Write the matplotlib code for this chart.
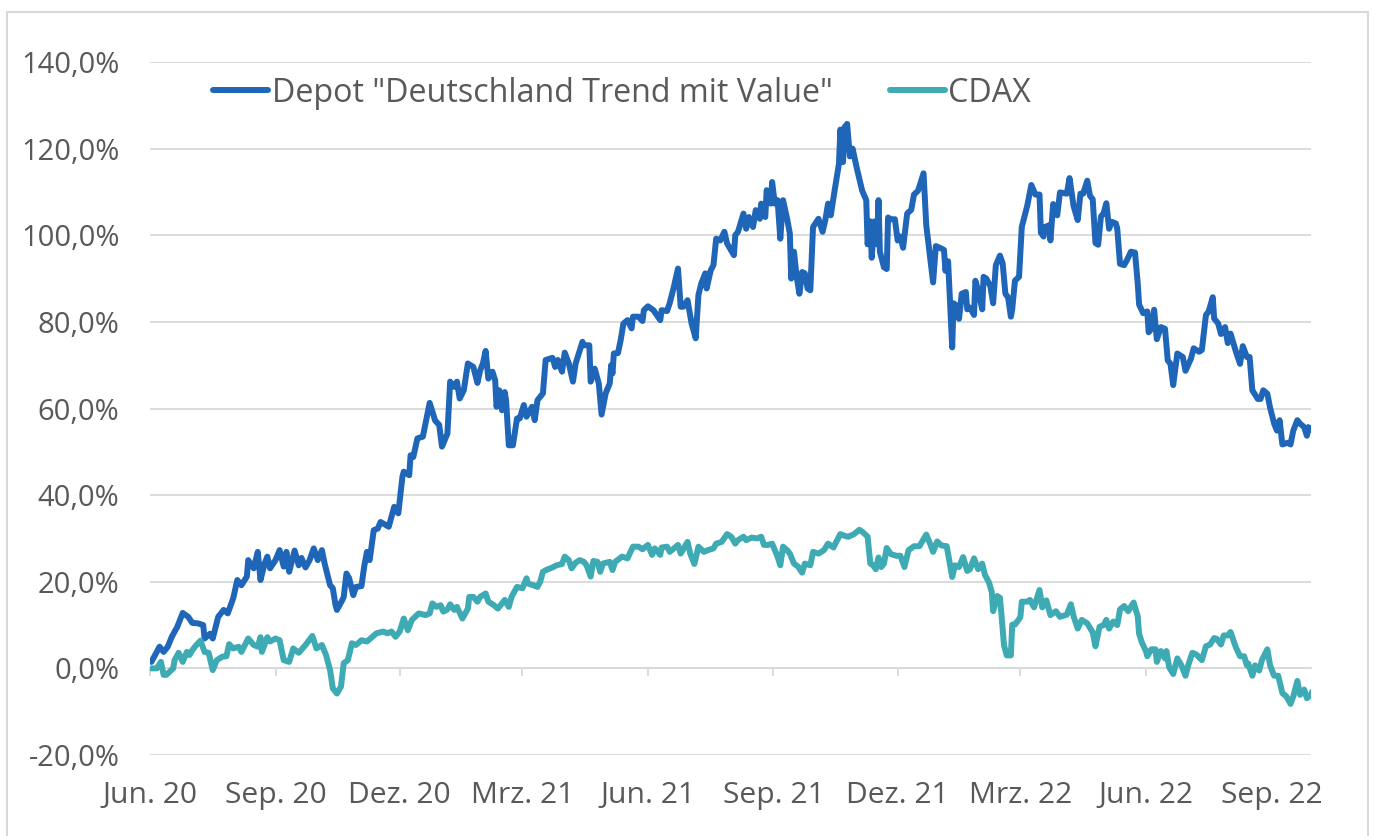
import matplotlib
matplotlib.use("Agg")
import matplotlib.pyplot as plt
from matplotlib.patches import Rectangle
from matplotlib.ticker import FuncFormatter
import pandas as pd

plt.rcParams['font.family'] = ['Open Sans', 'DejaVu Sans']

start_date = "2020-06-01"

# days since start_date / performance in %
depot_days = [1, 7, 10, 13, 16, 20, 24, 28, 31, 35, 39, 40, 44, 46, 50, 54, 57, 61, 64, 67,
              71, 72, 76, 79, 81, 84, 86, 88, 92, 95, 98, 100, 102, 106, 109, 111, 114, 117, 120, 123,
              126, 128, 132, 134, 136, 137, 141, 142, 144, 146, 149, 151, 155, 157, 159, 161, 164, 167, 169, 175,
              177, 179, 182, 185, 186, 190, 191, 193, 196, 200, 205, 209, 212, 214, 218, 220, 223, 225, 227, 230,
              233, 237, 240, 242, 244, 246, 248, 251, 253, 254, 256, 258, 260, 261, 263, 266, 269, 271, 274, 276,
              280, 282, 284, 288, 290, 295, 297, 299, 302, 304, 307, 310, 312, 317, 318, 322, 323, 326, 329, 331,
              334, 337, 338, 339, 340, 343, 345, 347, 350, 353, 354, 358, 361, 362, 365, 369, 374, 375, 379, 381,
              384, 387, 389, 391, 394, 397, 400, 402, 404, 407, 408, 411, 413, 415, 418, 421, 423, 426, 428, 429,
              431, 435, 437, 439, 442, 444, 447, 448, 451, 452, 455, 456, 458, 460, 462, 464, 467, 469, 470, 472,
              474, 476, 478, 480, 482, 484, 486, 490, 493, 495, 497, 499, 502, 505, 506, 508, 509, 511, 513, 515,
              518, 522, 525, 526, 528, 529, 531, 533, 534, 535, 538, 540, 541, 543, 546, 548, 550, 552, 555, 558,
              560, 563, 567, 569, 574, 576, 579, 582, 583, 585, 588, 589, 591, 593, 595, 598, 599, 601, 604, 605,
              607, 610, 611, 613, 616, 618, 620, 623, 625, 627, 629, 631, 632, 634, 637, 639, 643, 646, 649, 652,
              653, 655, 656, 659, 660, 662, 665, 667, 672, 674, 677, 680, 682, 684, 687, 689, 691, 693, 695, 697,
              699, 701, 703, 705, 708, 709, 711, 714, 716, 719, 722, 724, 725, 728, 731, 732, 734, 736, 738, 741,
              744, 746, 748, 750, 753, 757, 759, 763, 765, 769, 771, 774, 776, 779, 780, 783, 785, 788, 790, 792,
              796, 799, 801, 804, 806, 808, 812, 814, 816, 819, 821, 824, 826, 828, 830, 834, 836, 838, 841, 843,
              846, 848, 849, 852]
depot_values = [1.5, 5.0, 3.8, 5.0, 7.3, 9.6, 12.8, 11.9, 10.5, 10.4, 10.0, 6.9, 8.0, 6.9, 11.9, 13.5, 12.7, 16.2, 20.4, 19.2,
                21.2, 25.0, 23.1, 26.9, 20.4, 24.2, 25.8, 23.1, 25.0, 27.3, 23.5, 26.9, 22.3, 27.2, 23.8, 25.5, 23.3, 25.0, 27.7, 25.0,
                27.3, 24.2, 19.2, 18.5, 14.6, 13.5, 15.8, 16.5, 21.9, 20.8, 16.9, 18.8, 19.0, 23.5, 26.9, 25.0, 31.9, 32.3, 33.8, 32.7,
                35.0, 37.3, 35.8, 44.2, 45.4, 44.6, 49.2, 48.8, 53.1, 53.5, 61.3, 57.2, 56.2, 51.2, 54.2, 66.2, 65.0, 66.2, 62.3, 64.2,
                70.4, 69.6, 65.9, 68.8, 70.4, 73.3, 66.9, 68.5, 66.5, 60.4, 64.2, 59.6, 63.8, 61.9, 51.5, 51.5, 57.7, 57.7, 60.8, 58.1,
                60.4, 57.3, 61.9, 63.5, 71.2, 71.7, 69.6, 71.2, 68.5, 72.9, 70.4, 66.2, 70.4, 75.4, 74.6, 74.6, 66.2, 69.2, 65.7, 58.6,
                63.5, 65.8, 70.0, 68.1, 72.7, 72.8, 75.8, 79.6, 80.4, 78.5, 81.2, 81.2, 80.2, 82.7, 83.6, 82.7, 80.4, 82.7, 82.5, 84.4,
                88.1, 92.3, 83.5, 83.5, 85.0, 79.6, 76.2, 86.2, 88.8, 91.2, 87.7, 91.9, 93.1, 99.2, 98.8, 100.8, 98.1, 96.5, 95.4, 100.0,
                100.8, 105.0, 101.5, 104.2, 101.9, 105.8, 103.8, 107.3, 104.2, 110.4, 107.3, 112.3, 107.3, 108.1, 99.2, 108.1, 103.8, 100.4, 90.0, 96.2,
                90.4, 86.5, 91.5, 91.2, 87.7, 87.3, 101.9, 103.8, 100.8, 103.5, 107.3, 104.6, 110.7, 116.5, 124.4, 116.9, 124.9, 125.7, 118.2, 120.0,
                115.6, 110.3, 108.1, 97.9, 103.2, 94.8, 103.2, 97.9, 108.1, 96.2, 92.6, 92.2, 104.1, 103.7, 103.7, 98.8, 99.7, 97.1, 105.0, 105.9,
                109.4, 110.3, 114.3, 102.3, 89.1, 97.5, 97.1, 96.6, 91.8, 94.0, 74.1, 84.3, 83.8, 80.7, 86.5, 86.9, 82.9, 83.3, 81.6, 89.5,
                87.3, 82.9, 90.4, 90.0, 88.2, 84.3, 93.1, 95.3, 93.5, 86.5, 85.6, 81.2, 82.9, 89.5, 90.4, 101.9, 106.8, 111.6, 109.4, 109.4,
                100.6, 99.7, 101.9, 102.3, 98.8, 107.2, 104.6, 109.9, 109.6, 113.2, 106.7, 103.5, 109.6, 109.6, 112.6, 109.1, 108.3, 98.2, 97.8, 104.3,
                105.1, 107.4, 101.5, 103.1, 102.7, 101.5, 93.4, 93.1, 94.2, 96.2, 96.0, 88.9, 84.0, 82.0, 82.4, 77.6, 78.4, 82.8, 76.0, 78.8,
                78.4, 71.1, 70.3, 65.4, 72.7, 71.9, 68.7, 71.5, 73.9, 73.1, 73.5, 81.6, 82.4, 85.7, 80.8, 79.6, 77.2, 78.8, 75.1, 77.3,
                73.1, 70.3, 74.4, 71.9, 71.9, 64.2, 62.2, 62.2, 64.2, 63.4, 60.2, 56.5, 54.9, 57.3, 51.7, 52.1, 51.7, 54.9, 57.3, 56.5,
                55.7, 53.7, 55.7, 54.9]

cdax_days = [1, 5, 8, 10, 12, 17, 18, 21, 24, 27, 29, 31, 34, 37, 40, 43, 46, 49, 53, 56,
             58, 61, 65, 67, 72, 76, 79, 81, 82, 86, 88, 92, 95, 98, 102, 105, 109, 114, 119, 122,
             126, 129, 132, 134, 137, 140, 142, 145, 148, 151, 155, 159, 163, 166, 171, 174, 177, 180, 183, 186,
             189, 192, 197, 202, 205, 207, 210, 213, 215, 218, 220, 223, 225, 229, 233, 234, 237, 240, 242, 246,
             248, 252, 255, 258, 260, 263, 265, 269, 273, 276, 277, 281, 284, 286, 288, 291, 295, 298, 302, 304,
             307, 309, 312, 315, 318, 320, 323, 325, 328, 330, 332, 337, 339, 341, 346, 350, 354, 358, 361, 365,
             368, 370, 374, 375, 379, 381, 384, 387, 389, 394, 396, 399, 402, 406, 409, 413, 415, 419, 423, 426,
             429, 431, 435, 437, 441, 445, 448, 450, 453, 456, 458, 460, 462, 464, 467, 469, 472, 475, 478, 480,
             484, 486, 490, 494, 497, 501, 503, 506, 510, 512, 516, 520, 523, 526, 528, 530, 532, 534, 536, 538,
             540, 543, 547, 550, 553, 556, 560, 564, 569, 572, 574, 577, 580, 584, 588, 590, 593, 596, 599, 601,
             604, 607, 610, 612, 615, 617, 618, 621, 623, 624, 626, 628, 631, 632, 634, 637, 638, 639, 643, 645,
             648, 652, 654, 657, 660, 664, 667, 672, 675, 677, 680, 683, 687, 691, 693, 696, 699, 701, 703, 706,
             709, 711, 714, 717, 721, 724, 725, 727, 730, 731, 734, 737, 738, 741, 744, 745, 747, 750, 753, 756,
             759, 761, 764, 767, 771, 774, 777, 780, 782, 785, 787, 790, 792, 796, 799, 802, 804, 805, 808, 810,
             813, 815, 819, 821, 824, 827, 830, 833, 836, 838, 841, 843, 846, 848, 851, 852]
cdax_values = [0.0, 0.0, 1.5, -1.5, -1.5, 0.0, 1.9, 3.6, 1.5, 3.8, 3.1, 4.2, 5.4, 6.4, 3.8, 3.6, -0.4, 1.9, 2.7, 2.8,
               5.6, 4.6, 5.0, 3.8, 6.9, 5.4, 5.0, 7.2, 3.8, 7.2, 6.2, 6.9, 6.5, 1.9, 1.5, 4.6, 3.6, 5.4, 7.5, 4.6,
               5.4, 3.1, -0.4, -4.6, -5.8, -4.2, 1.2, 1.9, 5.8, 5.4, 6.5, 6.2, 7.3, 8.1, 8.5, 8.1, 8.5, 7.3, 8.5, 11.5,
               8.8, 11.2, 12.7, 12.3, 12.7, 15.0, 14.2, 14.6, 13.1, 13.6, 14.8, 13.5, 14.2, 11.5, 13.8, 16.5, 16.5, 15.4, 16.5, 17.3,
               15.4, 14.6, 13.8, 15.0, 15.8, 14.2, 16.5, 18.8, 18.5, 20.8, 19.6, 19.2, 18.8, 20.0, 22.3, 22.8, 23.3, 23.8, 24.1, 25.8,
               25.0, 23.1, 24.4, 25.0, 24.6, 23.8, 21.2, 24.8, 24.6, 22.3, 24.2, 24.6, 22.7, 24.6, 25.8, 25.4, 28.1, 28.1, 27.5, 28.5,
               26.2, 27.7, 26.2, 27.9, 28.1, 26.9, 27.7, 28.5, 26.5, 29.2, 26.5, 24.1, 28.1, 26.9, 27.3, 27.7, 28.8, 29.2, 31.0, 30.4,
               28.8, 29.6, 30.4, 29.6, 30.2, 30.0, 30.4, 28.5, 28.5, 28.8, 27.3, 25.8, 23.8, 28.1, 27.3, 26.5, 24.2, 23.5, 22.1, 24.2,
               23.8, 26.9, 26.5, 27.3, 28.8, 27.9, 29.2, 31.0, 30.5, 30.4, 31.0, 32.0, 31.3, 30.4, 24.2, 23.8, 22.9, 25.6, 23.4, 24.2,
               27.8, 26.4, 26.0, 26.0, 23.4, 27.3, 28.2, 28.2, 30.9, 28.6, 26.9, 29.3, 28.4, 28.2, 21.1, 23.8, 23.4, 25.7, 22.5, 22.9,
               25.4, 22.9, 24.2, 21.6, 19.8, 17.6, 13.2, 16.7, 16.3, 12.8, 5.3, 3.0, 3.0, 10.1, 10.1, 11.4, 11.9, 15.4, 15.4, 15.8,
               14.1, 18.1, 14.1, 15.7, 12.3, 13.2, 11.9, 12.4, 14.8, 12.0, 9.2, 11.2, 10.4, 8.3, 5.1, 9.6, 10.0, 11.2, 9.2, 10.8,
               10.0, 13.6, 14.4, 13.2, 15.2, 12.0, 8.0, 6.0, 4.0, 2.8, 4.4, 4.4, 1.5, 4.0, 2.3, 4.0, 0.3, -1.3, 2.3, 0.7,
               -1.7, 0.7, 3.6, 3.2, 1.9, 5.1, 5.5, 7.0, 6.8, 5.5, 7.6, 7.6, 8.4, 4.8, 2.8, 2.8, 0.7, 1.1, -1.7, 0.7,
               -0.5, 1.9, 4.4, 0.7, -1.7, -1.7, -5.7, -6.5, -8.2, -6.5, -2.9, -6.1, -4.9, -6.9, -6.1, -5.3]

tick_dates = ["2020-06-01", "2020-09-01", "2020-12-01", "2021-03-01", "2021-06-01",
              "2021-09-01", "2021-12-01", "2022-03-01", "2022-06-01", "2022-09-01"]
tick_labels = ["Jun. 20", "Sep. 20", "Dez. 20", "Mrz. 21", "Jun. 21",
               "Sep. 21", "Dez. 21", "Mrz. 22", "Jun. 22", "Sep. 22"]

depot_name = 'Depot "Deutschland Trend mit Value"'
cdax_name = "CDAX"

blue = "#1f66b8"
teal = "#3eaab3"
grid_col = "#d9d9d9"
text_col = "#595959"

t0 = pd.Timestamp(start_date)
depot_x = t0 + pd.to_timedelta(depot_days, unit="D")
cdax_x = t0 + pd.to_timedelta(cdax_days, unit="D")

fig = plt.figure(figsize=(13.74, 8.36), dpi=100)
ax = fig.add_axes([150 / 1374, 1 - 755 / 836, (1311 - 150) / 1374, (755 - 62) / 836])

ax.plot(depot_x, depot_values, color=blue, lw=4.3, solid_joinstyle="round",
        solid_capstyle="round", label=depot_name, zorder=3)
ax.plot(cdax_x, cdax_values, color=teal, lw=4.3, solid_joinstyle="round",
        solid_capstyle="round", label=cdax_name, zorder=3)

ax.set_ylim(-20, 140)
ax.set_yticks(range(-20, 141, 20))
ax.yaxis.set_major_formatter(FuncFormatter(lambda v, p: f"{v:.1f}%".replace(".", ",")))
ax.set_xlim(t0, pd.Timestamp("2022-09-30"))
ax.set_xticks(pd.to_datetime(tick_dates))
ax.set_xticklabels(tick_labels)

ax.grid(axis="y", color=grid_col, lw=1.3)
ax.set_axisbelow(True)
for s in ["top", "right", "left"]:
    ax.spines[s].set_visible(False)
ax.spines["bottom"].set_position(("data", 0))
ax.spines["bottom"].set_color(grid_col)
ax.spines["bottom"].set_linewidth(1.3)
ax.tick_params(axis="y", length=0, pad=22, labelsize=21, labelcolor=text_col)
ax.tick_params(axis="x", length=6, width=1.3, color=grid_col, pad=75,
               labelsize=21.6, labelcolor=text_col)

fig.legend(loc="center left", bbox_to_anchor=(213 / 1374, 1 - 93 / 836), ncol=2,
           frameon=False, fontsize=23.2, handlelength=1.72, handletextpad=0.1,
           columnspacing=1.78, borderpad=0, borderaxespad=0, labelcolor=text_col)

fig.patches.append(Rectangle((7 / 1374, -0.01), (1368 - 7) / 1374, 1 - 12 / 836 + 0.01,
                             transform=fig.transFigure, fill=False, edgecolor=grid_col, lw=1.5))

fig.savefig("out.png", dpi=100)
